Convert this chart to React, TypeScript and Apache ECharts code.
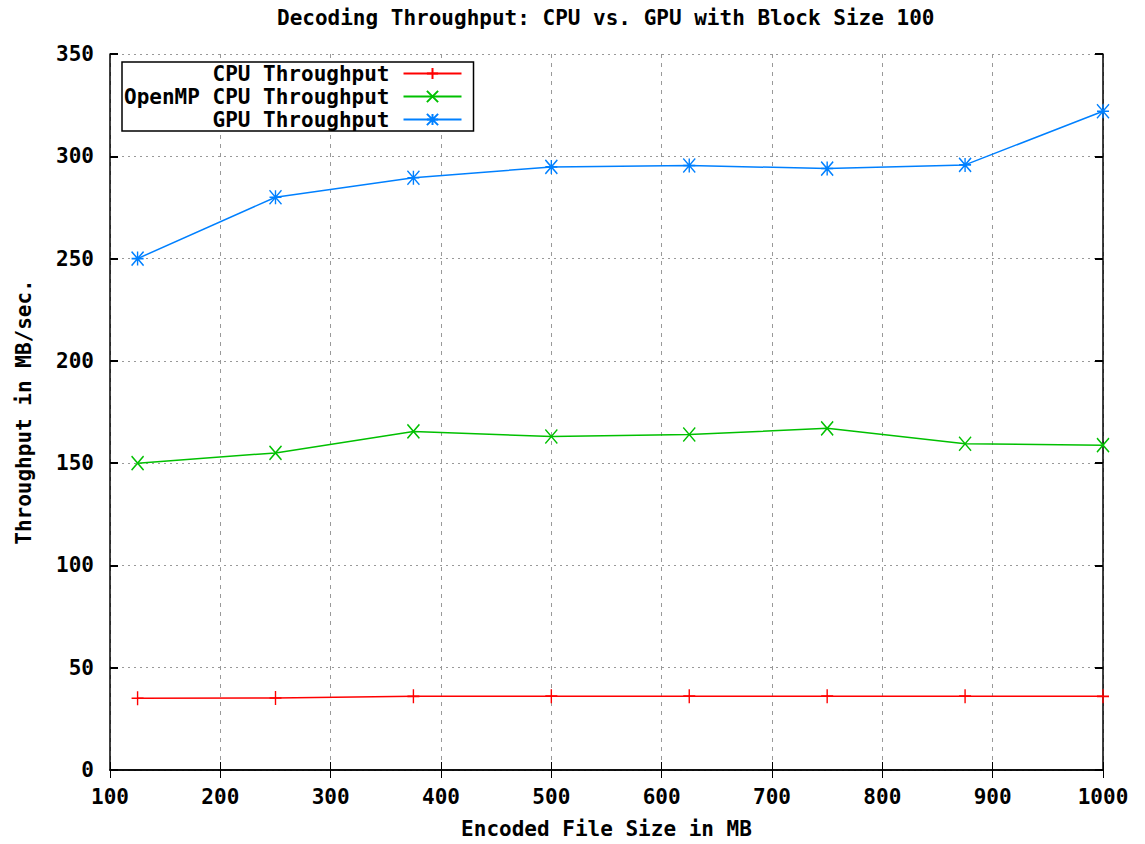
import React, { useEffect, useRef } from "react";
import * as echarts from "echarts";

const fileSizes = [125, 250, 375, 500, 625, 750, 875, 1000];
const cpuThroughput = [35.1, 35.2, 36.0, 36.1, 36.1, 36.1, 36.1, 36.0];
const openmpThroughput = [150, 155, 165.5, 163, 164, 167, 159.5, 158.8];
const gpuThroughput = [250, 280, 289.5, 294.8, 295.5, 294, 295.8, 322];

const seriesNames = ["CPU Throughput", "OpenMP CPU Throughput", "GPU Throughput"];
const seriesColors = ["#ff0000", "#00c000", "#0080ff"];

const FONT = "'DejaVu Sans Mono', 'Liberation Mono', monospace";

const plusPath = "path://M0,7L12,7M6,0L6,14";
const crossPath = "path://M0,0L12,14M12,0L0,14";
const starPath = "path://M0,7L12,7M6,0L6,14M0,0L12,14M12,0L0,14";

export default function App() {
  const ref = useRef<HTMLDivElement>(null);

  useEffect(() => {
    if (!ref.current) return;
    const chart = echarts.init(ref.current, null, { renderer: "svg" });
    const pair = (vals: number[]) => fileSizes.map((x, i) => [x, vals[i]]);
    const symbols = [plusPath, crossPath, starPath];
    const datasets = [cpuThroughput, openmpThroughput, gpuThroughput];

    const textBase = { color: "#000", fontFamily: FONT, fontWeight: "bold" as const, fontSize: 21 };

    chart.setOption({
      animation: false,
      backgroundColor: "#fff",
      title: {
        text: "Decoding Throughput: CPU vs. GPU with Block Size 100",
        left: 277,
        top: 7,
        padding: 0,
        textStyle: { ...textBase },
      },
      legend: {
        orient: "vertical",
        left: 122,
        top: 62,
        align: "right",
        padding: [1, 11, 1, 2],
        itemGap: 2,
        itemWidth: 58,
        itemHeight: 14,
        backgroundColor: "#fff",
        borderColor: "#000",
        borderWidth: 1.5,
        textStyle: { ...textBase, width: 259, align: "right", lineHeight: 19, padding: [0, 9, 0, 0] },
        data: seriesNames,
      },
      grid: { left: 110, right: 42, top: 54, bottom: 70, containLabel: false },
      xAxis: [
        {
          type: "value",
          min: 100,
          max: 1000,
          interval: 100,
          position: "bottom",
          name: "Encoded File Size in MB",
          nameLocation: "middle",
          nameGap: 48,
          nameTextStyle: { ...textBase },
          axisLine: { show: true, lineStyle: { color: "#000", width: 1.5 } },
          axisTick: { show: true, inside: true, length: 8, lineStyle: { color: "#000", width: 1 } },
          axisLabel: { ...textBase, margin: 16, formatter: (v: number) => String(v) },
          splitLine: { show: true, lineStyle: { color: "#999", type: [4, 5], width: 1 } },
        },
        {
          type: "value",
          min: 100,
          max: 1000,
          interval: 100,
          position: "top",
          axisLine: { show: true, lineStyle: { color: "#000", width: 1.5 } },
          axisTick: { show: true, inside: true, length: 8, lineStyle: { color: "#000", width: 1 } },
          axisLabel: { show: false },
          splitLine: { show: false },
        },
      ],
      yAxis: [
        {
          type: "value",
          min: 0,
          max: 350,
          interval: 50,
          position: "left",
          name: "Throughput in MB/sec.",
          nameLocation: "middle",
          nameGap: 76,
          nameRotate: 90,
          nameTextStyle: { ...textBase },
          axisLine: { show: true, lineStyle: { color: "#000", width: 1.5 } },
          axisTick: { show: true, inside: true, length: 8, lineStyle: { color: "#000", width: 2 } },
          axisLabel: { ...textBase, margin: 16 },
          splitLine: { show: true, lineStyle: { color: "#999", type: [2, 4], width: 1.2 } },
        },
        {
          type: "value",
          min: 0,
          max: 350,
          interval: 50,
          position: "right",
          axisLine: { show: true, lineStyle: { color: "#000", width: 1.5 } },
          axisTick: { show: true, inside: true, length: 8, lineStyle: { color: "#000", width: 2 } },
          axisLabel: { show: false },
          splitLine: { show: false },
        },
      ],
      series: seriesNames.map((name, i) => ({
        name,
        type: "line",
        xAxisIndex: 0,
        yAxisIndex: 0,
        data: pair(datasets[i]),
        symbol: symbols[i],
        symbolSize: [12, 14],
        showSymbol: true,
        color: seriesColors[i],
        lineStyle: { color: seriesColors[i], width: 1.5 },
        itemStyle: { color: seriesColors[i], borderColor: seriesColors[i], borderWidth: 1.5 },
        emphasis: { disabled: true },
        z: 3 + i,
      })),
    });

    return () => chart.dispose();
  }, []);

  return (
    <div
      ref={ref}
      style={{ position: "fixed", left: 0, top: 0, width: 1145, height: 844 }}
    />
  );
}
